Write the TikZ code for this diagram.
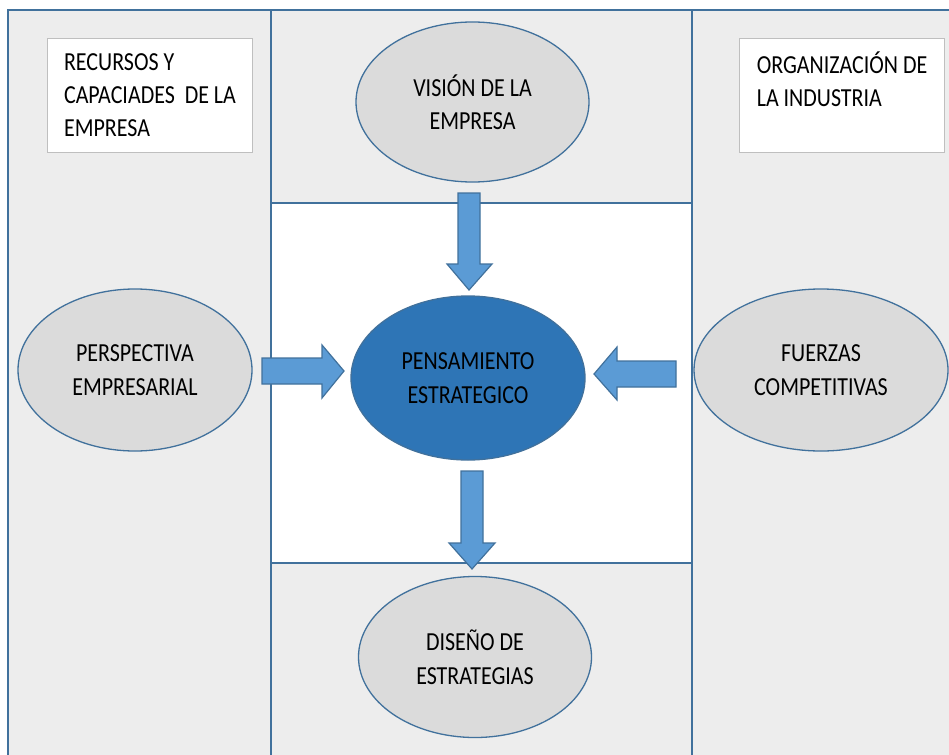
\documentclass[tikz,border=0pt]{standalone}
\usepackage{fontspec}
\setmainfont[FakeStretch=0.845]{Carlito}
\usetikzlibrary{shapes.geometric}
\definecolor{bord}{RGB}{65,113,156}
\definecolor{panel}{RGB}{237,237,237}
\definecolor{ellfill}{RGB}{219,219,219}
\definecolor{central}{RGB}{46,117,182}
\definecolor{arrowfill}{RGB}{91,155,213}
\definecolor{boxline}{RGB}{191,191,191}
\tikzset{
  panelbox/.style={draw=bord, line width=1.6pt, fill=panel},
  whitepanel/.style={draw=bord, line width=1.6pt, fill=white},
  txtbox/.style={draw=boxline, line width=1pt, fill=white, rectangle, anchor=north west,
    minimum width=205pt, minimum height=114pt, inner sep=0pt, align=left,
    font=\fontsize{26}{33}\selectfont},
  idea/.style={ellipse, draw=bord, line width=1.3pt, fill=ellfill, inner sep=0pt, align=center,
    font=\fontsize{26}{33.5}\selectfont},
  core/.style={ellipse, draw=bord, line width=1.3pt, fill=central, inner sep=0pt, align=center,
    font=\fontsize{26}{33.5}\selectfont},
  blockarrow/.style={draw=bord, line width=1.2pt, fill=arrowfill, line join=miter}
}
\begin{document}
\begin{tikzpicture}[x=1pt,y=-1pt]
\useasboundingbox (0,0) rectangle (949,754);
\clip (0,0) rectangle (949,754);
% panels
\draw[panelbox] (8,10) rectangle (271,770);
\draw[panelbox] (692,10) rectangle (970,770);
\draw[panelbox] (271,10) rectangle (692,203);
\draw[whitepanel] (271,203) rectangle (692,563);
\draw[panelbox] (271,563) rectangle (692,770);
% text boxes
\node[txtbox] (recursos) at (47,38) {RECURSOS Y\\CAPACIADES~ DE LA\\EMPRESA};
\node[txtbox] (organiz) at (739,38) {ORGANIZACIÓN DE\\LA INDUSTRIA\\\mbox{}};
% ellipses
\node[idea, minimum width=233pt, minimum height=160pt] (vision) at (472.5,102) {VISIÓN DE LA\\EMPRESA};
\node[idea, minimum width=234pt, minimum height=162pt] (persp) at (135,370) {PERSPECTIVA\\EMPRESARIAL};
\node[idea, minimum width=254pt, minimum height=162pt] (fuerzas) at (821,370) {FUERZAS\\COMPETITIVAS};
\node[core, minimum width=234pt, minimum height=164pt] (pens) at (468,378) {PENSAMIENTO\\ESTRATEGICO};
\node[idea, minimum width=233pt, minimum height=161pt] (diseno) at (475,657) {DISEÑO DE\\ESTRATEGIAS};
% block arrows
\draw[blockarrow] (458,193) -- (480,193) -- (480,264) -- (492,264) -- (469,290) -- (447,264) -- (458,264) -- cycle;
\draw[blockarrow] (262,358) -- (322,358) -- (322,345) -- (344,371) -- (322,398) -- (322,384) -- (262,384) -- cycle;
\draw[blockarrow] (676,361) -- (617,361) -- (617,347) -- (594,374) -- (617,400) -- (617,387) -- (676,387) -- cycle;
\draw[blockarrow] (461,471) -- (483,471) -- (483,543) -- (495,543) -- (472,569) -- (449,543) -- (461,543) -- cycle;
\end{tikzpicture}
\end{document}
